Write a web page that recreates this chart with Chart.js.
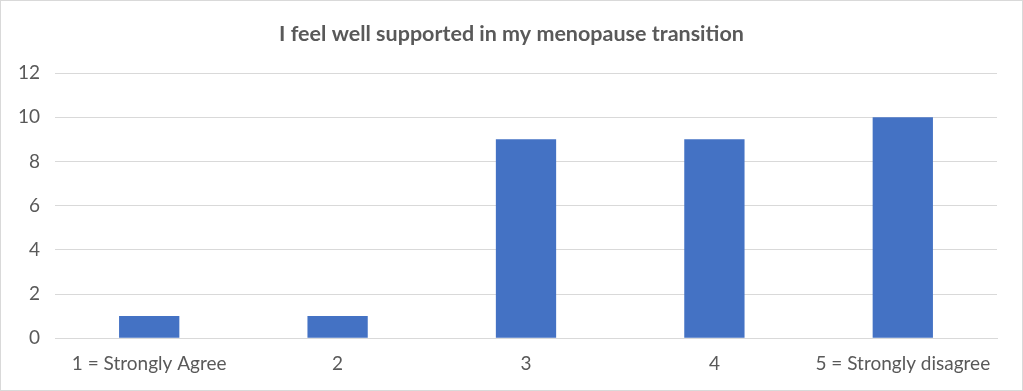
<!DOCTYPE html>
<html>
<head>
<meta charset="utf-8">
<script src="https://cdn.jsdelivr.net/npm/chart.js@4"></script>
<style>
  html, body { margin: 0; padding: 0; background: #fff; }
  #wrap {
    width: 1023px; height: 391px;
    box-sizing: border-box;
    border: 1px solid #d9d9d9;
  }
</style>
</head>
<body>
<div id="wrap"><canvas id="chart" width="1021" height="389"></canvas></div>
<script>
const titleText = 'I feel well supported in my menopause transition';
const categories = ['1 = Strongly Agree', '2', '3', '4', '5 = Strongly disagree'];
const responses = [1, 1, 9, 9, 10];
const yTicks = [0, 2, 4, 6, 8, 10, 12];

const ctx = document.getElementById('chart').getContext('2d');

// title drawn centred on the whole canvas (the plot area itself is off-centre)
const pageTitle = {
    id: 'pageTitle',
    afterDraw(chart) {
        const c = chart.ctx;
        c.save();
        c.fillStyle = '#595959';
        c.font = 'bold 21.5px Lato';
        c.textAlign = 'center';
        c.textBaseline = 'middle';
        c.fillText(titleText, chart.width / 2, 33);
        c.restore();
    }
};

new Chart(ctx, {
    type: 'bar',
    data: {
        labels: categories,
        datasets: [{
            data: responses,
            backgroundColor: '#4472c4',
            categoryPercentage: 1,
            barPercentage: 0.32
        }]
    },
    options: {
        responsive: false,
        animation: false,
        layout: {
            padding: { left: 0, right: 25, bottom: 1, top: 72 }
        },
        plugins: {
            legend: { display: false },
            tooltip: { enabled: false },
            title: { display: false }
        },
        scales: {
            x: {
                grid: { display: false, drawTicks: false },
                border: { display: true, color: '#d9d9d9' },
                ticks: {
                    color: '#595959',
                    font: { family: 'Lato', size: 19 },
                    padding: 14,
                    maxRotation: 0
                }
            },
            y: {
                min: 0,
                max: 12,
                afterFit: scale => { scale.width = 54; },
                afterBuildTicks: scale => {
                    scale.ticks = yTicks.map(v => ({ value: v }));
                },
                grid: { color: '#d9d9d9', drawTicks: false },
                border: { display: false },
                ticks: {
                    color: '#595959',
                    font: { family: 'Lato', size: 19 },
                    padding: 15
                }
            }
        }
    },
    plugins: [pageTitle]
});
</script>
</body>
</html>
